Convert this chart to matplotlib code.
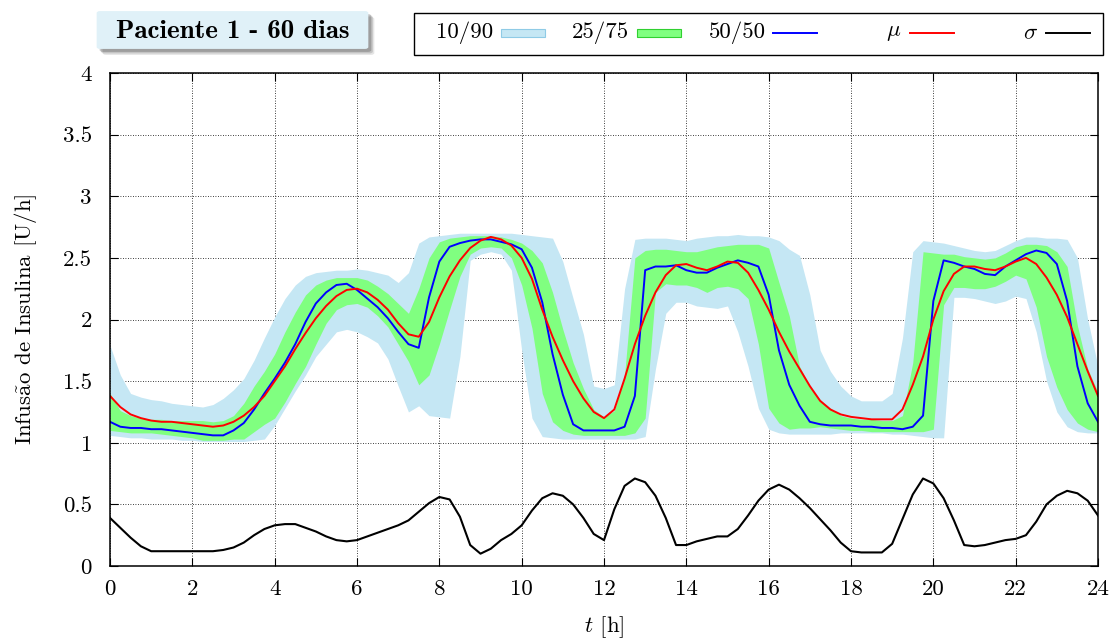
import matplotlib
matplotlib.use("Agg")
import matplotlib.pyplot as plt
import numpy as np
from matplotlib.lines import Line2D
from matplotlib.patches import FancyBboxPatch, Rectangle
from matplotlib.ticker import FormatStrFormatter

plt.rcParams["font.family"] = ["cmr10", "DejaVu Serif"]
plt.rcParams["mathtext.fontset"] = "cm"
plt.rcParams["axes.unicode_minus"] = False

# hora do dia, amostras a cada 15 min
t = np.arange(97) * 0.25

p10 = [1.06, 1.05, 1.04, 1.04, 1.03, 1.03, 1.03, 1.02, 1.02, 1.01, 1.01, 1.01, 1.01, 1.01, 1.02, 1.03,
       1.14, 1.28, 1.42, 1.55, 1.70, 1.80, 1.90, 1.92, 1.90, 1.86, 1.81, 1.68, 1.46, 1.25, 1.30, 1.22,
       1.21, 1.20, 1.70, 2.48, 2.53, 2.55, 2.53, 2.40, 1.75, 1.20, 1.05, 1.04, 1.03, 1.03, 1.03, 1.03,
       1.03, 1.03, 1.03, 1.03, 1.05, 1.60, 2.05, 2.14, 2.14, 2.11, 2.10, 2.09, 2.11, 1.90, 1.62, 1.28,
       1.11, 1.08, 1.07, 1.07, 1.07, 1.07, 1.07, 1.08, 1.08, 1.08, 1.08, 1.08, 1.07, 1.07, 1.06, 1.05,
       1.04, 1.04, 2.18, 2.18, 2.17, 2.15, 2.13, 2.15, 2.19, 2.17, 1.90, 1.50, 1.25, 1.13, 1.09, 1.08, 1.08]
p90 = [1.79, 1.55, 1.40, 1.37, 1.35, 1.34, 1.32, 1.31, 1.30, 1.29, 1.31, 1.36, 1.43, 1.52, 1.67, 1.85,
       2.02, 2.17, 2.28, 2.35, 2.38, 2.39, 2.40, 2.40, 2.41, 2.40, 2.38, 2.36, 2.30, 2.38, 2.62, 2.67,
       2.68, 2.69, 2.70, 2.70, 2.70, 2.70, 2.70, 2.70, 2.69, 2.68, 2.67, 2.66, 2.47, 2.17, 1.88, 1.46,
       1.44, 1.47, 2.25, 2.65, 2.66, 2.66, 2.66, 2.65, 2.64, 2.66, 2.67, 2.68, 2.68, 2.69, 2.68, 2.68,
       2.67, 2.64, 2.57, 2.52, 2.20, 1.75, 1.58, 1.46, 1.38, 1.34, 1.34, 1.34, 1.40, 1.85, 2.55, 2.64,
       2.63, 2.62, 2.60, 2.58, 2.56, 2.55, 2.56, 2.60, 2.64, 2.67, 2.67, 2.66, 2.66, 2.65, 2.50, 2.00, 1.62]
p25 = [1.10, 1.09, 1.08, 1.08, 1.08, 1.07, 1.06, 1.05, 1.04, 1.02, 1.02, 1.02, 1.03, 1.03, 1.09, 1.15,
       1.20, 1.33, 1.48, 1.62, 1.80, 1.97, 2.08, 2.12, 2.13, 2.10, 2.03, 1.94, 1.80, 1.66, 1.47, 1.55,
       1.80, 2.08, 2.35, 2.53, 2.58, 2.59, 2.58, 2.50, 2.28, 1.93, 1.40, 1.17, 1.10, 1.07, 1.06, 1.06,
       1.06, 1.06, 1.06, 1.08, 1.20, 2.22, 2.29, 2.28, 2.28, 2.26, 2.22, 2.26, 2.27, 2.25, 2.17, 1.80,
       1.28, 1.16, 1.11, 1.12, 1.12, 1.13, 1.12, 1.11, 1.10, 1.10, 1.09, 1.09, 1.09, 1.09, 1.09, 1.09,
       1.11, 2.12, 2.26, 2.26, 2.25, 2.25, 2.27, 2.31, 2.36, 2.33, 2.10, 1.70, 1.45, 1.27, 1.16, 1.11, 1.09]
p75 = [1.40, 1.26, 1.22, 1.20, 1.19, 1.19, 1.18, 1.18, 1.18, 1.18, 1.17, 1.18, 1.22, 1.32, 1.46, 1.58,
       1.72, 1.90, 2.06, 2.20, 2.28, 2.32, 2.34, 2.34, 2.34, 2.32, 2.27, 2.21, 2.13, 2.05, 2.25, 2.50,
       2.63, 2.66, 2.67, 2.68, 2.68, 2.68, 2.67, 2.65, 2.62, 2.56, 2.46, 2.22, 1.92, 1.65, 1.44, 1.27,
       1.21, 1.26, 1.55, 2.50, 2.56, 2.57, 2.57, 2.56, 2.55, 2.55, 2.57, 2.59, 2.60, 2.61, 2.61, 2.61,
       2.58, 2.30, 2.03, 1.62, 1.46, 1.35, 1.28, 1.22, 1.20, 1.19, 1.19, 1.18, 1.18, 1.22, 1.65, 2.55,
       2.54, 2.53, 2.53, 2.51, 2.50, 2.49, 2.50, 2.54, 2.59, 2.61, 2.61, 2.60, 2.55, 2.43, 1.95, 1.60, 1.41]
median = [1.17, 1.13, 1.12, 1.12, 1.11, 1.11, 1.10, 1.09, 1.08, 1.07, 1.06, 1.06, 1.10, 1.16, 1.27, 1.40,
          1.52, 1.65, 1.80, 1.98, 2.13, 2.22, 2.28, 2.29, 2.24, 2.17, 2.10, 2.01, 1.90, 1.80, 1.77, 2.18,
          2.47, 2.59, 2.62, 2.64, 2.65, 2.65, 2.63, 2.61, 2.57, 2.42, 2.14, 1.72, 1.39, 1.15, 1.10, 1.10,
          1.10, 1.10, 1.13, 1.38, 2.40, 2.43, 2.43, 2.44, 2.40, 2.38, 2.38, 2.42, 2.45, 2.48, 2.46, 2.43,
          2.20, 1.75, 1.47, 1.30, 1.17, 1.15, 1.14, 1.14, 1.14, 1.13, 1.13, 1.12, 1.12, 1.11, 1.13, 1.22,
          2.15, 2.48, 2.46, 2.43, 2.41, 2.37, 2.36, 2.43, 2.48, 2.53, 2.56, 2.54, 2.45, 2.15, 1.62, 1.32, 1.17]
mu = [1.38, 1.29, 1.23, 1.20, 1.18, 1.17, 1.17, 1.16, 1.15, 1.14, 1.13, 1.14, 1.17, 1.22, 1.29, 1.38,
      1.50, 1.62, 1.76, 1.89, 2.01, 2.11, 2.19, 2.24, 2.25, 2.22, 2.16, 2.08, 1.97, 1.88, 1.86, 1.98,
      2.18, 2.35, 2.48, 2.58, 2.64, 2.67, 2.65, 2.60, 2.50, 2.33, 2.08, 1.86, 1.67, 1.50, 1.36, 1.25,
      1.20, 1.27, 1.52, 1.80, 2.03, 2.22, 2.36, 2.44, 2.45, 2.42, 2.40, 2.43, 2.47, 2.46, 2.38, 2.24,
      2.08, 1.90, 1.74, 1.60, 1.46, 1.34, 1.27, 1.23, 1.21, 1.20, 1.19, 1.19, 1.19, 1.27, 1.47, 1.70,
      2.00, 2.23, 2.37, 2.43, 2.43, 2.41, 2.40, 2.43, 2.47, 2.50, 2.45, 2.34, 2.20, 2.02, 1.80, 1.58, 1.38]
sigma = [0.39, 0.31, 0.23, 0.16, 0.12, 0.12, 0.12, 0.12, 0.12, 0.12, 0.12, 0.13, 0.15, 0.19, 0.25, 0.30,
         0.33, 0.34, 0.34, 0.31, 0.28, 0.24, 0.21, 0.20, 0.21, 0.24, 0.27, 0.30, 0.33, 0.37, 0.44, 0.51,
         0.56, 0.54, 0.40, 0.17, 0.10, 0.14, 0.21, 0.26, 0.33, 0.45, 0.55, 0.59, 0.57, 0.50, 0.39, 0.26,
         0.21, 0.46, 0.65, 0.71, 0.68, 0.57, 0.39, 0.17, 0.17, 0.20, 0.22, 0.24, 0.24, 0.30, 0.41, 0.53,
         0.62, 0.66, 0.62, 0.55, 0.47, 0.38, 0.29, 0.19, 0.12, 0.11, 0.11, 0.11, 0.18, 0.38, 0.58, 0.71,
         0.67, 0.55, 0.37, 0.17, 0.16, 0.17, 0.19, 0.21, 0.22, 0.25, 0.36, 0.50, 0.57, 0.61, 0.59, 0.53, 0.41]

xticks = np.arange(0, 25, 2)
yticks = np.arange(0, 4.01, 0.5)
legend_labels = ["10/90", "25/75", "50/50", r"$\mu$", r"$\sigma$"]
title = "Paciente 1 - 60 dias"

c_p10 = "#c5e7f4"
c_p25 = "#80ff80"
c_med = "#0000ff"
c_mu = "#ff0000"
c_sig = "#000000"

fig = plt.figure(figsize=(11.12, 6.39), dpi=100)
W, H = 1112, 639
ax = fig.add_axes([110 / W, 1 - 566 / H, 988 / W, 493 / H])

ax.fill_between(t, p10, p90, color=c_p10, linewidth=0)
ax.fill_between(t, p25, p75, color=c_p25, linewidth=0)
ax.plot(t, median, color=c_med, lw=1.4)
ax.plot(t, mu, color=c_mu, lw=1.4)
ax.plot(t, sigma, color=c_sig, lw=1.5)

ax.set_xlim(0, 24)
ax.set_ylim(0, 4)
ax.set_xticks(xticks)
ax.set_yticks(yticks)
ax.yaxis.set_major_formatter(FormatStrFormatter("%g"))
ax.set_axisbelow(True)
ax.grid(True, color="black", linestyle=(0, (1, 2)), linewidth=0.6)
ax.tick_params(direction="in", length=6, width=0.8, top=True, right=True,
               labelsize=16.5)
ax.tick_params(axis="x", pad=10)
ax.tick_params(axis="y", pad=13)
for s in ax.spines.values():
    s.set_linewidth(1.1)

ax.set_xlabel(r"$t$ [h]", fontsize=16.5, labelpad=11)
ax.set_ylabel(r"Infus$\mathrm{\tilde{a}}$o de Insulina [U/h]", fontsize=16.5, labelpad=17)

# caixa do título com sombra
for k, a in enumerate([0.12, 0.18, 0.25]):
    off = 6 - 1.5 * k
    fig.patches.append(FancyBboxPatch(((100 + off) / W, 1 - (47 + off) / H), 265 / W, 34 / H,
                                      boxstyle="round,pad=0.003", transform=fig.transFigure,
                                      facecolor="#303030", edgecolor="none", alpha=a))
fig.patches.append(FancyBboxPatch((100 / W, 1 - 47 / H), 265 / W, 34 / H,
                                  boxstyle="round,pad=0.003", transform=fig.transFigure,
                                  facecolor="#e0f1f8", edgecolor="none"))
fig.text(232.5 / W, 1 - 31 / H, title, family="cmb10", fontsize=19.5,
         ha="center", va="center")

# legenda manual, texto à esquerda do símbolo
fig.patches.append(Rectangle((414 / W, 1 - 55 / H), 689 / W, 42 / H, transform=fig.transFigure,
                             facecolor="white", edgecolor="black", linewidth=1.0))
yc = 1 - 33 / H
for i, lab in enumerate(legend_labels):
    end = 545 + 136.2 * i
    start = end - 44
    fig.text((start - 8) / W, yc, lab, fontsize=16.5, ha="right", va="center")
    if i < 2:
        fc = [c_p10, c_p25][i]
        ec = ["#8fcbe6", "#30d030"][i]
        fig.patches.append(Rectangle((start / W, yc - 3.5 / H), 44 / W, 7 / H,
                                     transform=fig.transFigure, facecolor=fc,
                                     edgecolor=ec, linewidth=0.8))
    else:
        col = [c_med, c_mu, c_sig][i - 2]
        fig.lines.append(Line2D([start / W, end / W], [yc, yc], transform=fig.transFigure,
                                color=col, lw=1.4))

fig.savefig("out.png", dpi=100)
